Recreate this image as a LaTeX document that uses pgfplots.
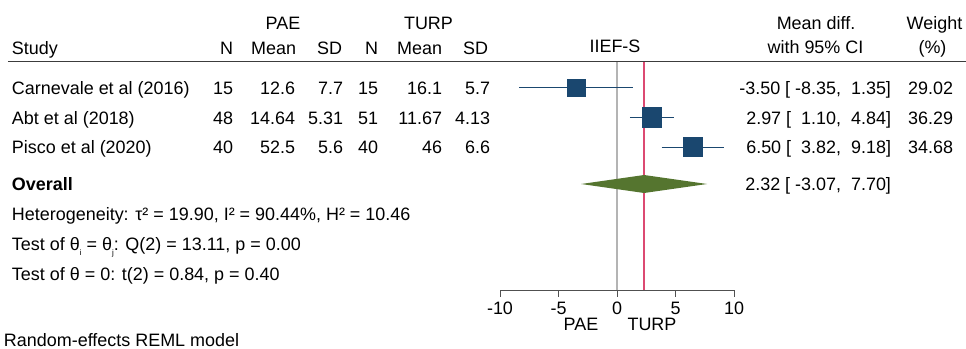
\documentclass[border=0pt]{standalone}
\usepackage{fontspec}
\setmainfont{Liberation Sans}
\usepackage{pgfplots}
\pgfplotsset{compat=1.18}
\definecolor{navy}{HTML}{1A476F}
\definecolor{fgreen}{HTML}{55752F}
\definecolor{cran}{HTML}{DC4A72}
\definecolor{vgray}{HTML}{B4B4B4}
\definecolor{axgray}{HTML}{505050}
\definecolor{hgray}{HTML}{3C3C3C}
\newcommand{\fs}{\fontsize{17.95bp}{20bp}\selectfont}
\newcommand{\sub}[1]{\raisebox{-0.3em}{\fontsize{8bp}{8bp}\selectfont #1}}
\begin{document}
\begin{tikzpicture}[x=1bp,y=-1bp, every node/.style={font=\fs, inner sep=0pt, outer sep=0pt}]
\begin{axis}[name=ax, scale only axis,
  width=234bp, height=229bp, xmin=-10, xmax=10, ymin=61, ymax=290,
  y dir=reverse, clip=false, axis y line=none, axis x line*=bottom,
  xtick={-10,-5,0,5,10}, xticklabels={{-10},{-5},{0},{5},{10}},
  tick align=outside, major tick length=6.5bp,
  axis line style={axgray, line width=1bp}, tick style={axgray, line width=1bp},
  xticklabel style={font=\fs, anchor=base, yshift=-18.3bp, inner sep=0pt}]
\addplot[vgray, line width=1.2bp] coordinates {(0,61.5)(0,290)};
\addplot[cran, line width=1.4bp] coordinates {(2.32,61.5)(2.32,290)};
\addplot[navy, line width=1bp] coordinates {(-8.35,87.5)(1.35,87.5)};
\addplot[navy, line width=1bp] coordinates {(1.10,117)(4.84,117)};
\addplot[navy, line width=1bp] coordinates {(3.82,147)(9.18,147)};
\addplot[only marks, mark=square*, mark size=8.8bp, navy] coordinates {(-3.50,87.5)};
\addplot[only marks, mark=square*, mark size=9.85bp, navy] coordinates {(2.97,117)};
\addplot[only marks, mark=square*, mark size=9.63bp, navy] coordinates {(6.50,147)};
\addplot[fill=fgreen, draw=none] coordinates {(-3.07,184)(2.32,175)(7.70,184)(2.32,193)} -- cycle;
\end{axis}
\pgfresetboundingbox
\begin{scope}[shift={(ax.south west)}, xshift=-500bp, yshift=290bp]
\useasboundingbox (0,0) rectangle (966,348);
% header
\node[anchor=base] at (283,29.5) {PAE};
\node[anchor=base] at (428.5,29.5) {TURP};
\node[anchor=base west] at (12,54) {Study};
\node[anchor=base east] at (233,54) {N};
\node[anchor=base east] at (296,54) {Mean};
\node[anchor=base east] at (342,54) {SD};
\node[anchor=base east] at (378,54) {N};
\node[anchor=base east] at (442,54) {Mean};
\node[anchor=base east] at (488,54) {SD};
\node[anchor=base] at (615,52) {IIEF-S};
\node[anchor=base] at (816,29.5) {Mean diff.};
\node[anchor=base] at (815.5,53.5) {with 95\% CI};
\node[anchor=base] at (934.5,29.5) {Weight};
\node[anchor=base] at (932.5,53.5) {(\%)};
\draw[hgray, line width=1.8bp] (8,61.5) -- (966,61.5);
% rows
\foreach \yy/\st/\na/\ma/\sa/\nb/\mb/\sbb/\md/\ww in {
  94.5/Carnevale et al (2016)/15/12.6/7.7/15/16.1/5.7/{-3.50 [\ -8.35,\ \ 1.35]}/29.02,
  124/Abt et al (2018)/48/14.64/5.31/51/11.67/4.13/{2.97 [\ \ 1.10,\ \ 4.84]}/36.29,
  153.5/Pisco et al (2020)/40/52.5/5.6/40/46/6.6/{6.50 [\ \ 3.82,\ \ 9.18]}/34.68}{
  \node[anchor=base west] at (12,\yy) {\st};
  \node[anchor=base east] at (233,\yy) {\na};
  \node[anchor=base east] at (295,\yy) {\ma};
  \node[anchor=base east] at (343,\yy) {\sa};
  \node[anchor=base east] at (378,\yy) {\nb};
  \node[anchor=base east] at (442,\yy) {\mb};
  \node[anchor=base east] at (490,\yy) {\sbb};
  \node[anchor=base east] at (891,\yy) {\md};
  \node[anchor=base east] at (953,\yy) {\ww};
}
\node[anchor=base west] at (12,190.5) {\bfseries Overall};
\node[anchor=base east] at (891,190.5) {2.32 [\ -3.07,\ \ 7.70]};
\node[anchor=base west] at (12,220) {Heterogeneity: τ² = 19.90, I² = 90.44\%, H² = 10.46};
\node[anchor=base west] at (12,250.5) {Test of θ\sub{i} = θ\sub{j}: Q(2) = 13.11, p = 0.00};
\node[anchor=base west] at (12,280.5) {Test of θ = 0: t(2) = 0.84, p = 0.40};
\node[anchor=base west] at (4,346) {Random-effects REML model};
\node[anchor=base] at (581,330) {PAE};
\node[anchor=base] at (652,330) {TURP};
\end{scope}
\end{tikzpicture}
\end{document}
